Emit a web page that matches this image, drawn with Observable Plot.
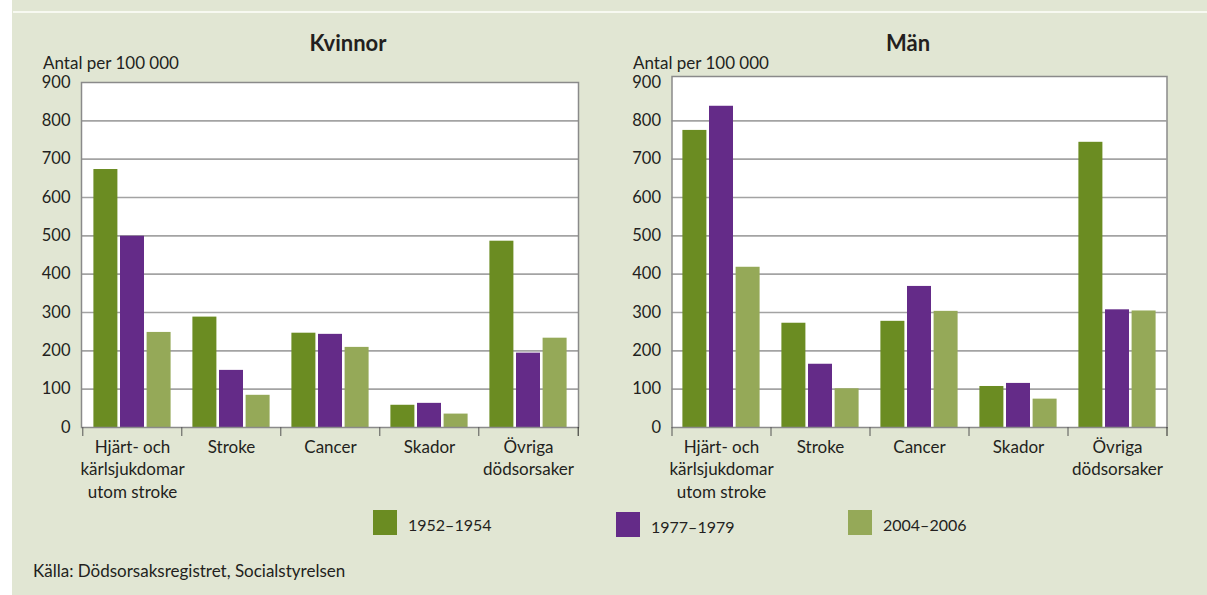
<!DOCTYPE html>
<html>
<head>
<meta charset="utf-8">
<script src="https://cdn.jsdelivr.net/npm/d3@7"></script>
<script src="https://cdn.jsdelivr.net/npm/@observablehq/plot@0.6"></script>
<style>
  html, body { margin: 0; padding: 0; background: #ffffff; }
  #page { position: relative; width: 1207px; height: 595px; overflow: hidden; font-family: Lato, "DejaVu Sans", sans-serif; color: #231f20; }
  #bg { position: absolute; left: 12px; top: 0; width: 1195px; height: 595px; background: #e1e6d3; }
  #topline { position: absolute; left: 13px; top: 11px; width: 1194px; height: 2px; background: #f7f9f1; }
  .title { position: absolute; top: 29px; font-weight: 700; font-size: 22px; transform: translateX(-50%); white-space: nowrap; }
  .ylab { position: absolute; top: 52px; font-size: 17px; white-space: nowrap; }
  .panel { position: absolute; top: 60px; }
  .leg { position: absolute; display: flex; align-items: center; font-size: 16px; }
  .leg .sw { width: 24px; height: 25px; margin-right: 11px; }
  #caption { position: absolute; left: 33px; top: 560px; font-size: 17px; white-space: nowrap; }
</style>
</head>
<body>
<div id="page">
  <div id="bg"></div>
  <div id="topline"></div>
  <div class="title" style="left:348px">Kvinnor</div>
  <div class="title" style="left:908px">Män</div>
  <div class="ylab" style="left:43px">Antal per 100 000</div>
  <div class="ylab" style="left:633px">Antal per 100 000</div>
  <div class="panel" id="p1" style="left:0px"></div>
  <div class="panel" id="p2" style="left:600px"></div>
  <div id="legend"></div>
  <div id="caption">Källa: Dödsorsaksregistret, Socialstyrelsen</div>
</div>
<script>
const causes = ["Hjärt- och kärlsjukdomar utom stroke", "Stroke", "Cancer", "Skador", "Övriga dödsorsaker"];
const causeLabels = ["Hjärt- och\nkärlsjukdomar\nutom stroke", "Stroke", "Cancer", "Skador", "Övriga\ndödsorsaker"];
const periods = ["1952–1954", "1977–1979", "2004–2006"];
const colors = ["#6b8c22", "#642b88", "#95a958"];
const yTicks = [0, 100, 200, 300, 400, 500, 600, 700, 800, 900];

// values per period, in cause order
const kvinnorValues = {
  "1952–1954": [673, 288, 246, 58, 486],
  "1977–1979": [499, 149, 243, 63, 194],
  "2004–2006": [248, 84, 209, 35, 233]
};
const manValues = {
  "1952–1954": [775, 272, 277, 107, 744],
  "1977–1979": [838, 165, 368, 115, 307],
  "2004–2006": [418, 101, 303, 74, 304]
};

function table(values) {
  const rows = [];
  for (const p of periods) causes.forEach((c, i) => rows.push({cause: c, period: p, value: values[p][i]}));
  return rows;
}

function panel(values, opts) {
  const data = table(values);
  const width = opts.width;
  const rangeW = width - opts.marginLeft - opts.marginRight;
  const step = rangeW / causes.length;
  const gap = 26.6;
  const labelOf = d => causeLabels[causes.indexOf(d)];
  return Plot.plot({
    width,
    height: 450,
    marginLeft: opts.marginLeft,
    marginRight: opts.marginRight,
    marginTop: 22,
    marginBottom: 83,
    style: {fontFamily: "Lato, 'DejaVu Sans', sans-serif", fontSize: "17px", color: "#231f20", background: "transparent", overflow: "visible"},
    x: {domain: causes, paddingInner: 0.76, paddingOuter: 0.38, axis: null, label: null},
    y: {domain: [0, 900], axis: null, label: null},
    color: {domain: periods, range: colors},
    marks: [
      Plot.frame({fill: "white", stroke: null, insetTop: opts.frameTop}),
      Plot.ruleY(yTicks.filter(d => d > 0 && d < 900), {stroke: "#a3a3a3", strokeWidth: 1.6}),
      ...periods.map((p, k) =>
        Plot.barY(data.filter(d => d.period === p), {x: "cause", y: "value", fill: "period", dx: (k - 1) * gap})
      ),
      Plot.frame({stroke: "#8a8a8a", strokeWidth: 1.5, insetTop: opts.frameTop}),
      Plot.axisY({ticks: yTicks, tickSize: 0, tickPadding: 11, fontSize: 16.5, label: null, tickFormat: d => String(d)}),
      Plot.axisX({ticks: causes, tickSize: 9, dx: -step / 2, label: null, tickFormat: () => "", stroke: "#555"}),
      Plot.axisX({ticks: [causes[causes.length - 1]], tickSize: 9, dx: step / 2, label: null, tickFormat: () => "", stroke: "#222"}),
      Plot.axisX({ticks: causes, tickSize: 0, tickPadding: 9, fontSize: 17, lineHeight: 1.33, label: null, tickFormat: labelOf})
    ]
  });
}

document.getElementById("p1").append(panel(kvinnorValues, {width: 600, marginLeft: 81, marginRight: 22, frameTop: 0}));
document.getElementById("p2").append(panel(manValues, {width: 607, marginLeft: 71.5, marginRight: 40.5, frameTop: -6}));

// legend built from the same arrays
const legendX = [373, 616, 848];
const legendY = [510, 512, 510];
const leg = document.getElementById("legend");
periods.forEach((p, i) => {
  const div = document.createElement("div");
  div.className = "leg";
  div.style.left = legendX[i] + "px";
  div.style.top = legendY[i] + "px";
  const sw = document.createElement("div");
  sw.className = "sw";
  sw.style.background = colors[i];
  const t = document.createElement("span");
  t.textContent = p;
  t.style.marginTop = "4px";
  div.append(sw, t);
  leg.append(div);
});
</script>
</body>
</html>
